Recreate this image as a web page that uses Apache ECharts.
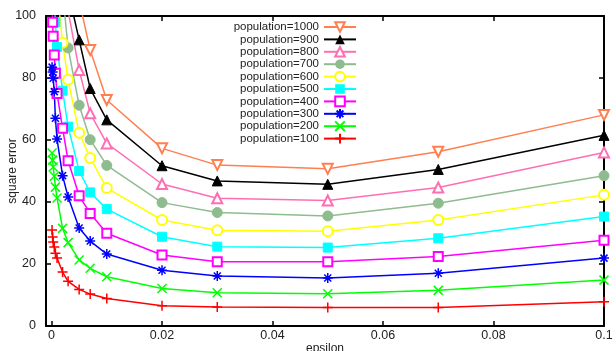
<!DOCTYPE html>
<html>
<head>
<meta charset="utf-8">
<script src="https://cdn.jsdelivr.net/npm/echarts@6/dist/echarts.min.js"></script>
<style>
  html, body { margin: 0; padding: 0; background: #fff; }
  #chart { width: 616px; height: 351px; }
</style>
</head>
<body>
<div id="chart"></div>
<script>
// epsilon values (x), shared by every series
const eps = [0.0001, 0.0002, 0.0003, 0.0005, 0.0007, 0.001, 0.002, 0.003, 0.005, 0.007, 0.01, 0.02, 0.03, 0.05, 0.07, 0.1];

// square error per population size (values above 100 are clipped by the axis)
const pop1000 = [190, 180, 170, 160, 152, 145, 132, 118, 105, 89.0, 72.9, 57.3, 51.9, 50.7, 56.2, 68.1];
const pop900 = [180, 170, 160, 150, 142, 135, 122, 108, 92.3, 76.6, 66.5, 51.7, 46.8, 45.7, 50.5, 61.5];
const pop800 = [170, 160, 150, 140, 132, 125, 112, 101.7, 82.6, 68.6, 58.9, 45.8, 41.2, 40.5, 44.7, 56.0];
const pop700 = [150, 140, 134, 128, 123, 119, 107.7, 89.7, 71.2, 60.1, 51.8, 39.8, 36.6, 35.5, 39.6, 48.5];
const pop600 = [140, 132, 126, 120, 115, 108.6, 91.4, 79.4, 62.3, 54.2, 44.5, 34.2, 30.9, 30.6, 34.2, 42.3];
const pop500 = [125, 118, 112, 105, 98, 90, 75.9, 64.3, 50.0, 43.1, 37.7, 28.8, 25.6, 25.3, 28.3, 35.3];
const pop400 = [104, 98, 93.5, 87.4, 81.5, 75, 63.8, 53.3, 42.0, 36.3, 29.9, 22.9, 20.7, 20.7, 22.4, 27.7];
const pop300 = [83.5, 81.9, 79.9, 75.6, 67.0, 60.3, 48.5, 41.6, 31.6, 27.4, 23.2, 18.0, 16.1, 15.5, 17.0, 21.9];
const pop200 = [55.8, 53.5, 51.3, 48.3, 44.8, 41.3, 31.5, 26.9, 21.3, 18.6, 15.9, 12.1, 10.7, 10.4, 11.5, 14.8];
const pop100 = [31.0, 28.7, 27.1, 25.5, 23.5, 21.9, 17.4, 14.4, 11.8, 10.3, 8.9, 6.5, 6.1, 6.0, 6.0, 7.8];

const xTicks = [0, 0.02, 0.04, 0.06, 0.08, 0.1];

const font = "'Liberation Sans', Arial, sans-serif";

const ASTERISK = "path://M0,5L10,5M5,0L5,10M1.5,1.5L8.5,8.5M1.5,8.5L8.5,1.5";
const CROSS = "path://M0,0L10,10M0,10L10,0";
const PLUS = "path://M0,5L10,5M5,0L5,10";

const seriesDefs = [
  { name: "population=1000", data: pop1000, color: "#ff7f50", symbol: "emptyTriangle", size: 10, rotate: 180 },
  { name: "population=900", data: pop900, color: "#000000", symbol: "triangle", size: 10 },
  { name: "population=800", data: pop800, color: "#ff6eb4", symbol: "emptyTriangle", size: 10 },
  { name: "population=700", data: pop700, color: "#8fbc8f", symbol: "circle", size: 10 },
  { name: "population=600", data: pop600, color: "#ffff00", symbol: "emptyCircle", size: 10 },
  { name: "population=500", data: pop500, color: "#00ffff", symbol: "rect", size: 9 },
  { name: "population=400", data: pop400, color: "#ff00ff", symbol: "emptyRect", size: 9 },
  { name: "population=300", data: pop300, color: "#0000ff", symbol: ASTERISK, size: 10, stroke: true },
  { name: "population=200", data: pop200, color: "#00ff00", symbol: CROSS, size: 9, stroke: true },
  { name: "population=100", data: pop100, color: "#ff0000", symbol: PLUS, size: 10, stroke: true },
];

const chart = echarts.init(document.getElementById("chart"), null, { renderer: "canvas" });

const frameLine = { show: true, onZero: false, lineStyle: { color: "#000", width: 2 } };

const option = {
  animation: false,
  backgroundColor: "#fff",
  grid: { left: 46, right: 12, top: 16, bottom: 25, containLabel: false, outerBoundsMode: "none" },
  legend: seriesDefs.map((s, i) => ({
    data: [s.name],
    orient: "vertical",
    right: 259,
    top: 21 + i * 12.4,
    align: "right",
    padding: 0,
    itemGap: 0,
    itemWidth: 32,
    itemHeight: 12,
    selectedMode: false,
    textStyle: { fontSize: 11.5, color: "#222", fontFamily: font },
  })),
  xAxis: [
    {
      type: "value",
      min: -0.001,
      max: 0.1,
      position: "bottom",
      name: "epsilon",
      nameLocation: "middle",
      nameGap: 17,
      nameMoveOverlap: false,
      nameTextStyle: { fontSize: 12, color: "#222", fontFamily: font, verticalAlign: "top" },
      axisLine: frameLine,
      axisTick: { show: true, inside: true, length: 5, customValues: xTicks, lineStyle: { color: "#000", width: 1.5 } },
      axisLabel: {
        customValues: xTicks,
        margin: 3,
        fontSize: 12.5,
        color: "#222",
        fontFamily: font,
        formatter: v => String(+v.toFixed(3)),
      },
      splitLine: { show: false },
    },
    {
      type: "value",
      min: -0.001,
      max: 0.1,
      position: "top",
      axisLine: frameLine,
      axisTick: { show: true, inside: true, length: 5, customValues: xTicks, lineStyle: { color: "#000", width: 1.5 } },
      axisLabel: { show: false },
      splitLine: { show: false },
    },
  ],
  yAxis: [
    {
      type: "value",
      min: 0,
      max: 100,
      interval: 20,
      position: "left",
      name: "square error",
      nameLocation: "middle",
      nameGap: 27,
      nameMoveOverlap: false,
      nameTextStyle: { fontSize: 12, color: "#222", fontFamily: font },
      axisLine: frameLine,
      axisTick: { show: true, inside: true, length: 5, lineStyle: { color: "#000", width: 1.5 } },
      axisLabel: { margin: 10, fontSize: 12.5, color: "#222", fontFamily: font },
      splitLine: { show: false },
    },
    {
      type: "value",
      min: 0,
      max: 100,
      interval: 20,
      position: "right",
      axisLine: frameLine,
      axisTick: { show: true, inside: true, length: 5, lineStyle: { color: "#000", width: 1.5 } },
      axisLabel: { show: false },
      splitLine: { show: false },
    },
  ],
  series: seriesDefs.map(s => ({
    name: s.name,
    type: "line",
    xAxisIndex: 0,
    yAxisIndex: 0,
    clip: true,
    data: eps.map((x, i) => [x, s.data[i]]),
    symbol: s.symbol,
    symbolSize: s.size,
    symbolRotate: s.rotate || 0,
    showAllSymbol: true,
    lineStyle: { color: s.color, width: 1.5 },
    itemStyle: s.stroke
      ? { color: s.color, borderColor: s.color, borderWidth: 1.5 }
      : { color: s.color, borderColor: s.color },
    emphasis: { disabled: true },
  })),
};

chart.setOption(option);
</script>
</body>
</html>
